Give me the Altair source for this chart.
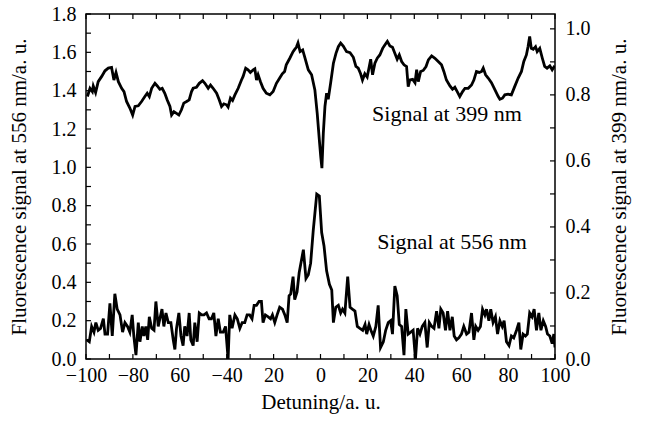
import altair as alt
import pandas as pd

# ---------------- data ----------------
X_DOMAIN = [-100, 100]
LEFT_DOMAIN = [0, 1.8]
RIGHT_DOMAIN = [0, 1.045]

X_TICKS = [-100, -80, -60, -40, -20, 0, 20, 40, 60, 80, 100]
X_TICK_LABELS = ["−100", "−80", "60", "−40", "20", "0", "20", "40", "60", "80", "100"]
X_MINOR = [-100, -90, -80, -70, -60, -50, -40, -30, -20, -10, 0,
           10, 20, 30, 40, 50, 60, 70, 80, 90, 100]
LEFT_LABEL_TICKS = [0.0, 0.2, 0.4, 0.6, 0.8, 1.0, 1.2, 1.4, 1.6, 1.8]
LEFT_MINOR = [0.0, 0.1, 0.2, 0.3, 0.4, 0.5, 0.6, 0.7, 0.8, 0.9, 1.0,
              1.1, 1.2, 1.3, 1.4, 1.5, 1.6, 1.7, 1.8]
RIGHT_LABEL_TICKS = [0.0, 0.2, 0.4, 0.6, 0.8, 1.0]
RIGHT_MINOR = [0.0, 0.1, 0.2, 0.3, 0.4, 0.5, 0.6, 0.7, 0.8, 0.9, 1.0]

# Signal at 556 nm (left axis)
SIGNAL_556 = [
    (-99.7, 0.10), (-98.6, 0.09), (-97.6, 0.17), (-96.6, 0.14), (-95.8, 0.19), (-94.8, 0.15),
    (-93.8, 0.16), (-92.6, 0.21), (-91.9, 0.13), (-90.8, 0.13), (-89.8, 0.29), (-88.8, 0.12),
    (-87.7, 0.34), (-86.7, 0.26), (-85.5, 0.23), (-84.4, 0.14), (-83.4, 0.19), (-82.3, 0.17),
    (-81.3, 0.14), (-80.3, 0.23), (-79.6, 0.12), (-78.7, 0.02), (-77.7, 0.19), (-77.0, 0.09),
    (-76.0, 0.17), (-75.3, 0.12), (-74.5, 0.17), (-73.7, 0.10), (-73.0, 0.22), (-72.0, 0.16),
    (-71.0, 0.15), (-70.2, 0.30), (-69.2, 0.17), (-68.5, 0.21), (-67.6, 0.26), (-66.8, 0.17),
    (-65.9, 0.24), (-64.9, 0.19), (-63.8, 0.19), (-62.8, 0.10), (-62.1, 0.05), (-61.4, 0.16),
    (-60.4, 0.24), (-59.5, 0.12), (-58.6, 0.07), (-57.9, 0.17), (-56.9, 0.12), (-56.0, 0.24),
    (-55.3, 0.10), (-54.3, 0.07), (-53.6, 0.19), (-52.6, 0.09), (-51.7, 0.24), (-50.7, 0.23),
    (-49.7, 0.23), (-48.6, 0.24), (-47.5, 0.21), (-46.5, 0.21), (-45.5, 0.24), (-44.6, 0.12),
    (-43.6, 0.21), (-42.7, 0.14), (-41.5, 0.14), (-40.5, 0.17), (-39.4, 0.00), (-38.7, 0.23),
    (-37.7, 0.16), (-36.5, 0.23), (-35.5, 0.21), (-34.4, 0.16), (-33.4, 0.19), (-32.3, 0.19),
    (-31.3, 0.23), (-30.2, 0.23), (-29.2, 0.21), (-28.3, 0.28), (-27.3, 0.28), (-26.2, 0.30),
    (-25.2, 0.30), (-24.5, 0.19), (-23.5, 0.23), (-22.3, 0.22), (-21.3, 0.21), (-20.5, 0.23),
    (-19.5, 0.19), (-18.5, 0.23), (-17.4, 0.27), (-16.2, 0.26), (-15.2, 0.23), (-14.2, 0.19),
    (-13.4, 0.33), (-12.7, 0.34), (-11.7, 0.43), (-11.0, 0.31), (-10.0, 0.35), (-9.1, 0.45),
    (-7.3, 0.57), (-6.2, 0.42), (-5.2, 0.44), (-4.2, 0.50), (-3.1, 0.67), (-1.6, 0.86),
    (-0.5, 0.85), (0.5, 0.66), (1.5, 0.59), (2.6, 0.46), (3.8, 0.39), (4.8, 0.36),
    (5.5, 0.19), (6.5, 0.27), (7.6, 0.28), (8.6, 0.24), (9.4, 0.26), (10.4, 0.24),
    (11.6, 0.43), (12.6, 0.27), (13.6, 0.26), (14.7, 0.25), (15.7, 0.17), (16.8, 0.16),
    (18.0, 0.15), (19.0, 0.18), (19.7, 0.13), (20.7, 0.18), (21.5, 0.15), (22.5, 0.12),
    (23.6, 0.17), (24.6, 0.28), (25.6, 0.06), (26.8, 0.09), (27.8, 0.15), (28.9, 0.19),
    (29.9, 0.20), (30.7, 0.13), (31.7, 0.38), (32.7, 0.33), (33.6, 0.18), (34.6, 0.17),
    (35.6, 0.02), (36.4, 0.26), (37.4, 0.13), (38.5, 0.14), (39.5, 0.15), (40.5, 0.00),
    (41.4, 0.16), (42.4, 0.13), (43.4, 0.17), (44.5, 0.19), (45.5, 0.06), (46.4, 0.19),
    (47.4, 0.17), (48.4, 0.16), (49.5, 0.25), (50.5, 0.16), (51.3, 0.26), (52.3, 0.24),
    (53.3, 0.15), (54.2, 0.25), (55.2, 0.15), (56.2, 0.22), (57.0, 0.12), (58.0, 0.10),
    (59.0, 0.11), (60.1, 0.13), (61.1, 0.17), (62.3, 0.13), (63.3, 0.14), (64.4, 0.24),
    (65.4, 0.10), (66.2, 0.17), (67.2, 0.15), (68.2, 0.17), (69.1, 0.26), (70.1, 0.23),
    (70.8, 0.26), (71.8, 0.20), (72.6, 0.26), (73.6, 0.19), (74.6, 0.22), (75.5, 0.13),
    (76.5, 0.20), (77.5, 0.17), (78.3, 0.20), (79.3, 0.09), (80.4, 0.07), (81.4, 0.12),
    (82.4, 0.11), (83.6, 0.15), (84.6, 0.19), (85.4, 0.05), (86.4, 0.13), (87.4, 0.12),
    (88.2, 0.13), (89.2, 0.24), (90.2, 0.22), (91.1, 0.26), (92.1, 0.15), (93.1, 0.24),
    (94.0, 0.15), (95.0, 0.20), (96.0, 0.17), (96.8, 0.13), (97.8, 0.12), (98.8, 0.08),
    (99.5, 0.13), (100.0, 0.06),
]

# Signal at 399 nm (right axis)
SIGNAL_399 = [
    (-99.4, 0.795), (-98.3, 0.820), (-97.3, 0.810), (-96.9, 0.827), (-95.9, 0.807), (-94.8, 0.840),
    (-93.3, 0.856), (-91.9, 0.873), (-90.5, 0.881), (-89.1, 0.883), (-88.1, 0.845), (-87.2, 0.868),
    (-86.2, 0.840), (-84.8, 0.820), (-83.8, 0.810), (-82.7, 0.780), (-81.3, 0.760), (-80.1, 0.739),
    (-79.1, 0.765), (-77.7, 0.767), (-76.3, 0.780), (-74.9, 0.795), (-73.9, 0.805), (-73.0, 0.795),
    (-72.0, 0.820), (-70.6, 0.835), (-69.6, 0.827), (-68.5, 0.817), (-67.5, 0.820), (-66.4, 0.805),
    (-65.4, 0.785), (-64.2, 0.765), (-63.5, 0.739), (-62.5, 0.749), (-61.4, 0.744), (-60.4, 0.739),
    (-59.3, 0.755), (-58.3, 0.775), (-57.1, 0.780), (-56.0, 0.785), (-55.0, 0.810), (-54.3, 0.820),
    (-52.9, 0.823), (-51.7, 0.835), (-50.3, 0.843), (-49.3, 0.835), (-47.9, 0.820), (-46.9, 0.830),
    (-45.8, 0.820), (-44.3, 0.805), (-43.2, 0.785), (-42.2, 0.765), (-41.2, 0.773), (-40.1, 0.770),
    (-39.4, 0.763), (-38.4, 0.790), (-37.5, 0.783), (-36.5, 0.800), (-35.1, 0.820), (-33.7, 0.845),
    (-33.0, 0.856), (-31.9, 0.881), (-30.9, 0.876), (-29.9, 0.868), (-28.7, 0.876), (-28.0, 0.879),
    (-27.3, 0.845), (-26.6, 0.861), (-25.6, 0.840), (-24.5, 0.820), (-23.1, 0.805), (-21.6, 0.800),
    (-20.2, 0.810), (-18.8, 0.835), (-17.4, 0.851), (-16.3, 0.864), (-15.3, 0.871), (-14.6, 0.891),
    (-13.1, 0.911), (-11.7, 0.931), (-11.0, 0.938), (-10.3, 0.944), (-9.6, 0.957),
    (-8.7, 0.931), (-7.6, 0.936), (-6.6, 0.911), (-5.2, 0.876), (-3.8, 0.861), (-2.4, 0.815),
    (-1.4, 0.744), (-0.5, 0.664), (0.1, 0.613), (0.6, 0.578), (1.2, 0.684), (1.9, 0.765),
    (2.6, 0.805), (3.3, 0.787), (4.3, 0.835), (5.5, 0.896), (6.6, 0.926), (7.6, 0.946),
    (8.6, 0.957), (9.7, 0.948), (11.1, 0.931), (12.6, 0.928), (14.0, 0.914), (15.1, 0.886),
    (16.1, 0.881), (17.1, 0.864), (17.9, 0.845), (18.9, 0.864), (19.9, 0.854), (20.8, 0.886),
    (21.4, 0.908), (22.2, 0.861), (23.2, 0.896), (24.2, 0.911), (25.3, 0.921), (26.5, 0.941),
    (27.5, 0.952), (28.5, 0.962), (29.6, 0.948), (30.7, 0.944), (31.7, 0.926), (32.7, 0.908),
    (33.6, 0.921), (34.6, 0.901), (35.6, 0.891), (36.7, 0.886), (37.4, 0.825), (38.1, 0.845),
    (39.3, 0.847), (40.3, 0.837), (41.0, 0.876), (41.7, 0.840), (42.7, 0.871), (43.8, 0.874),
    (45.0, 0.886), (46.0, 0.906), (47.4, 0.918), (48.8, 0.911), (50.2, 0.901), (51.6, 0.891),
    (52.6, 0.871), (53.7, 0.845), (55.2, 0.827), (56.3, 0.817), (57.3, 0.823), (58.3, 0.810),
    (59.4, 0.795), (60.6, 0.810), (61.6, 0.820), (63.0, 0.820), (64.4, 0.830), (65.4, 0.845),
    (66.5, 0.871), (67.7, 0.868), (68.7, 0.871), (69.4, 0.881), (70.4, 0.861), (71.5, 0.851),
    (72.9, 0.837), (74.3, 0.817), (75.8, 0.795), (76.5, 0.787), (77.6, 0.790), (78.6, 0.800),
    (80.0, 0.802), (81.4, 0.800), (82.8, 0.825), (84.3, 0.851), (85.7, 0.871), (86.7, 0.901),
    (87.8, 0.921), (88.5, 0.946), (89.2, 0.977), (89.9, 0.941), (90.7, 0.938), (91.7, 0.946),
    (92.4, 0.931), (93.5, 0.941), (94.6, 0.911), (95.6, 0.886), (96.6, 0.881), (97.8, 0.888),
    (98.8, 0.876), (99.9, 0.888),
]

# annotations: (x, y, text)
ANNOT_399 = (53.9, 0.742, "Signal at 399 nm")   # y on right axis
ANNOT_556 = (56.1, 0.61, "Signal at 556 nm")    # y on left axis

X_TITLE = "Detuning/a. u."
LEFT_TITLE = "Fluorescence signal at 556 nm/a. u."
RIGHT_TITLE = "Fluorescence signal at 399 nm/a. u."

# ---------------- chart ----------------
W, H = 469, 345
FONT = "Liberation Serif"
TICK_LEN = 5

x_scale = alt.Scale(domain=X_DOMAIN, nice=False, zero=False)
yl_scale = alt.Scale(domain=LEFT_DOMAIN, nice=False, zero=False)
yr_scale = alt.Scale(domain=RIGHT_DOMAIN, nice=False, zero=False)

label_expr = "".join(
    f"datum.value == {v} ? '{l}' : " for v, l in zip(X_TICKS, X_TICK_LABELS)
) + "''"

common_axis = dict(ticks=False, tickSize=0, domain=False, grid=False,
                   labelFont=FONT, titleFont=FONT, labelFontSize=20, titleFontSize=21,
                   labelColor="black", titleColor="black", titleFontWeight="normal",
                   labelFlush=False, labelOverlap=False)

x_axis = alt.Axis(values=X_TICKS, labelExpr=label_expr, labelPadding=6,
                  title=X_TITLE, titlePadding=6, orient="bottom", **common_axis)
left_axis = alt.Axis(values=LEFT_LABEL_TICKS, format=".1f", labelPadding=10,
                     title=LEFT_TITLE, titlePadding=22, orient="left", **common_axis)
right_axis = alt.Axis(values=RIGHT_LABEL_TICKS, format=".1f", labelPadding=10,
                      title=RIGHT_TITLE, titlePadding=18, orient="right", titleAngle=270,
                      titleBaseline="top", **common_axis)

df556 = pd.DataFrame(SIGNAL_556, columns=["x", "y"])
df399 = pd.DataFrame(SIGNAL_399, columns=["x", "y"])


def X(field):
    return alt.X(field, scale=x_scale, axis=x_axis)


line556 = alt.Chart(df556).mark_line(color="black", strokeWidth=2.8, clip=True).encode(
    x=X("x:Q"),
    y=alt.Y("y:Q", scale=yl_scale, axis=left_axis),
)
line399 = alt.Chart(df399).mark_line(color="black", strokeWidth=2.8, clip=True).encode(
    x=X("x:Q"),
    y=alt.Y("y:Q", scale=yr_scale, axis=right_axis),
)

xt = pd.DataFrame({"x": X_MINOR})
bottom_ticks = alt.Chart(xt).mark_rule(color="black", strokeWidth=1.2).encode(
    x=X("x:Q"), y=alt.value(H), y2=alt.value(H - TICK_LEN))
top_ticks = alt.Chart(xt).mark_rule(color="black", strokeWidth=1.2).encode(
    x=X("x:Q"), y=alt.value(0), y2=alt.value(TICK_LEN))
left_ticks = alt.Chart(pd.DataFrame({"t": LEFT_MINOR})).mark_rule(color="black", strokeWidth=1.2).encode(
    y=alt.Y("t:Q", scale=yl_scale, axis=None), x=alt.value(0), x2=alt.value(TICK_LEN))
right_ticks = alt.Chart(pd.DataFrame({"t": RIGHT_MINOR})).mark_rule(color="black", strokeWidth=1.2).encode(
    y=alt.Y("t:Q", scale=yr_scale, axis=None), x=alt.value(W), x2=alt.value(W - TICK_LEN))

t399 = alt.Chart(pd.DataFrame([ANNOT_399], columns=["x", "y", "t"])).mark_text(
    font=FONT, fontSize=22, color="black").encode(
    x=X("x:Q"), y=alt.Y("y:Q", scale=yr_scale, axis=None), text="t:N")
t556 = alt.Chart(pd.DataFrame([ANNOT_556], columns=["x", "y", "t"])).mark_text(
    font=FONT, fontSize=22, color="black").encode(
    x=X("x:Q"), y=alt.Y("y:Q", scale=yl_scale, axis=None), text="t:N")

chart = alt.layer(
    line556, line399, bottom_ticks, top_ticks, left_ticks, right_ticks, t399, t556
).resolve_scale(y="independent").properties(
    width=W, height=H,
    autosize=alt.AutoSizeParams(type="none"),
    padding={"left": 86, "top": 14, "right": 94, "bottom": 64},
    background="white",
).configure_view(stroke="black", strokeWidth=1.5)

chart.save("out.html", embed_options={"renderer": "svg", "actions": False})
